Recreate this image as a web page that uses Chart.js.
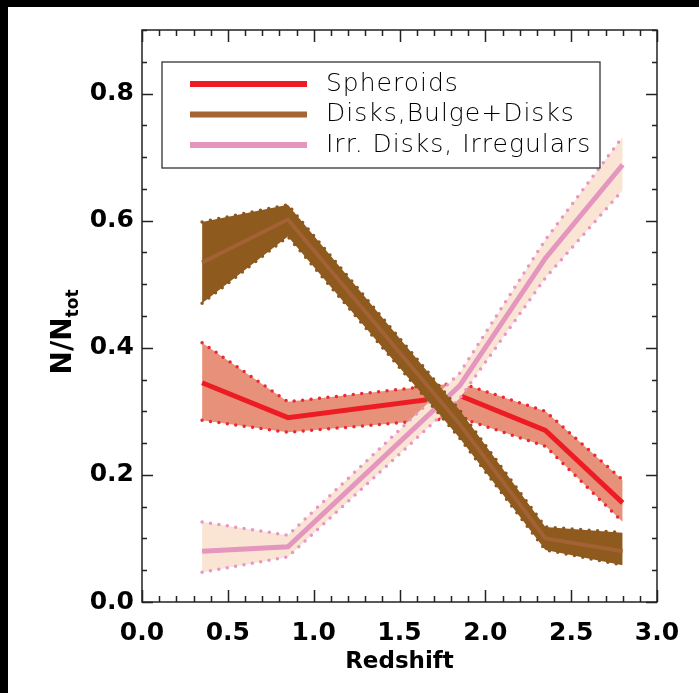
<!DOCTYPE html>
<html>
<head>
<meta charset="utf-8">
<script src="https://cdn.jsdelivr.net/npm/chart.js@4.4.1/dist/chart.umd.min.js"></script>
<style>
  html, body { margin: 0; padding: 0; background: #fff; overflow: hidden; }
  #chart { position: absolute; left: 0; top: 0; }
</style>
</head>
<body>
<canvas id="chart" width="699" height="693"></canvas>
<script>
// values
var redshift = [0.35, 0.85, 1.85, 2.35, 2.8];

var spheroids   = [0.345, 0.290, 0.325, 0.270, 0.156];
var spheroidsHi = [0.408, 0.315, 0.345, 0.300, 0.192];
var spheroidsLo = [0.286, 0.267, 0.290, 0.245, 0.126];

var disks   = [0.534, 0.602, 0.280, 0.100, 0.080];
var disksHi = [0.598, 0.625, 0.302, 0.118, 0.109];
var disksLo = [0.470, 0.575, 0.258, 0.082, 0.058];

var irregulars   = [0.080, 0.087, 0.340, 0.541, 0.688];
var irregularsHi = [0.126, 0.105, 0.360, 0.570, 0.732];
var irregularsLo = [0.047, 0.071, 0.320, 0.510, 0.648];

var seriesNames = ['Spheroids', 'Disks,Bulge+Disks', 'Irr. Disks, Irregulars'];
var xTicks = [0, 0.5, 1.0, 1.5, 2.0, 2.5, 3.0];
var yTicks = [0, 0.2, 0.4, 0.6, 0.8];

function pts(ys) {
  return ys.map(function (y, i) { return { x: redshift[i], y: y }; });
}

// main line, then the two dotted edges of its band
function band(idx, hi, lo, mid, lineCol, lineW, fillCol, dotCol, order) {
  return [
    { label: seriesNames[idx], data: pts(mid), borderColor: lineCol, borderWidth: lineW,
      pointRadius: 0, fill: false, order: order },
    { label: 'hi', data: pts(hi), borderColor: dotCol, borderWidth: 3.5, borderDash: [0, 8.5],
      borderCapStyle: 'round', pointRadius: 0, backgroundColor: fillCol,
      fill: { target: idx * 3 + 2 }, order: order + 2 },
    { label: 'lo', data: pts(lo), borderColor: dotCol, borderWidth: 3.5, borderDash: [0, 8.5],
      borderCapStyle: 'round', pointRadius: 0, fill: false, order: order + 1 }
  ];
}

var datasets = []
  .concat(band(0, spheroidsHi, spheroidsLo, spheroids, 'rgb(237,28,36)', 5, 'rgb(232,145,122)', 'rgb(237,40,50)', 6))
  .concat(band(1, disksHi, disksLo, disks, 'rgb(163,98,52)', 4, 'rgb(143,90,30)', 'rgb(140,88,30)', 0))
  .concat(band(2, irregularsHi, irregularsLo, irregulars, 'rgb(228,150,190)', 5, 'rgb(250,229,212)', 'rgb(232,150,195)', 3));

var legendCols = ['rgb(237,28,36)', 'rgb(166,100,52)', 'rgb(228,150,190)'];

// black strips along the top and left edge of the original picture
var edgePlugin = {
  id: 'edge',
  beforeDraw: function (chart) {
    var c = chart.ctx;
    c.save();
    c.fillStyle = '#000';
    c.fillRect(0, 0, chart.width, 7);
    c.fillRect(0, 0, 8, chart.height);
    c.restore();
  }
};

var framePlugin = {
  id: 'frame',
  afterDatasetsDraw: function (chart) {
    var c = chart.ctx, a = chart.chartArea, xs = chart.scales.x, ys = chart.scales.y;
    c.save();
    c.strokeStyle = '#222';
    c.lineWidth = 1.5;
    c.strokeRect(a.left, a.top, a.right - a.left, a.bottom - a.top);
    c.beginPath();
    var i, p, len;
    for (i = 0; i <= 30; i++) {
      p = Math.round(xs.getPixelForValue(i / 10)) + 0.5;
      len = i % 5 === 0 ? 12 : 6;
      c.moveTo(p, a.bottom); c.lineTo(p, a.bottom - len);
      c.moveTo(p, a.top); c.lineTo(p, a.top + len);
    }
    for (i = 0; i <= 18; i++) {
      p = Math.round(ys.getPixelForValue(i / 20)) + 0.5;
      len = i % 4 === 0 ? 11 : 5;
      c.moveTo(a.left, p); c.lineTo(a.left + len, p);
      c.moveTo(a.right, p); c.lineTo(a.right - len, p);
    }
    c.stroke();

    // legend box
    c.lineWidth = 1.3;
    c.strokeStyle = '#333';
    c.fillStyle = '#fff';
    c.fillRect(162, 62, 438, 106);
    c.strokeRect(162, 62, 438, 106);
    c.font = '200 25px "DejaVu Sans ExtraLight", "DejaVu Sans"';
    c.textBaseline = 'middle';
    c.letterSpacing = '1px';
    for (i = 0; i < 3; i++) {
      var y = 84 + i * 30.5;
      c.strokeStyle = legendCols[i];
      c.lineWidth = 6;
      c.beginPath(); c.moveTo(190, y); c.lineTo(307, y); c.stroke();
      c.fillStyle = '#000';
      c.fillText(seriesNames[i], 326, y);
    }
    c.letterSpacing = '0px';

    // y axis title with subscript
    c.fillStyle = '#000';
    c.translate(61, 332);
    c.rotate(-Math.PI / 2);
    c.font = 'bold 28px "DejaVu Sans"';
    var w1 = c.measureText('N/N').width;
    c.font = 'bold 17px "DejaVu Sans"';
    var w2 = c.measureText('tot').width;
    var x0 = -(w1 + w2) / 2;
    c.textBaseline = 'alphabetic';
    c.font = 'bold 28px "DejaVu Sans"';
    c.fillText('N/N', x0, 10);
    c.font = 'bold 17px "DejaVu Sans"';
    c.fillText('tot', x0 + w1, 17);
    c.restore();
  }
};

new Chart(document.getElementById('chart').getContext('2d'), {
  type: 'line',
  data: { datasets: datasets },
  options: {
    responsive: false,
    animation: false,
    layout: { padding: { top: 30, right: 42, left: 0, bottom: 0 } },
    plugins: { legend: { display: false }, tooltip: { enabled: false } },
    scales: {
      x: {
        type: 'linear', min: 0, max: 3,
        grid: { display: false, drawTicks: false },
        border: { display: false },
        afterBuildTicks: function (s) { s.ticks = xTicks.map(function (v) { return { value: v }; }); },
        afterFit: function (s) { s.height = 91; },
        ticks: {
          maxRotation: 0, autoSkip: false, padding: 16, color: '#000',
          font: { family: 'DejaVu Sans', size: 25, weight: 'bold' },
          callback: function (v) { return v.toFixed(1); }
        },
        title: { display: true, text: 'Redshift', color: '#000', padding: { top: 0, bottom: 17 },
          font: { family: 'DejaVu Sans', size: 23, weight: 'bold' } }
      },
      y: {
        min: 0, max: 0.9,
        grid: { display: false, drawTicks: false },
        border: { display: false },
        afterBuildTicks: function (s) { s.ticks = yTicks.map(function (v) { return { value: v }; }); },
        afterFit: function (s) { s.width = 142; },
        ticks: {
          autoSkip: false, padding: 8, color: '#000',
          font: { family: 'DejaVu Sans', size: 25, weight: 'bold' },
          callback: function (v) { return v.toFixed(1); }
        }
      }
    }
  },
  plugins: [edgePlugin, framePlugin]
});
</script>
</body>
</html>
